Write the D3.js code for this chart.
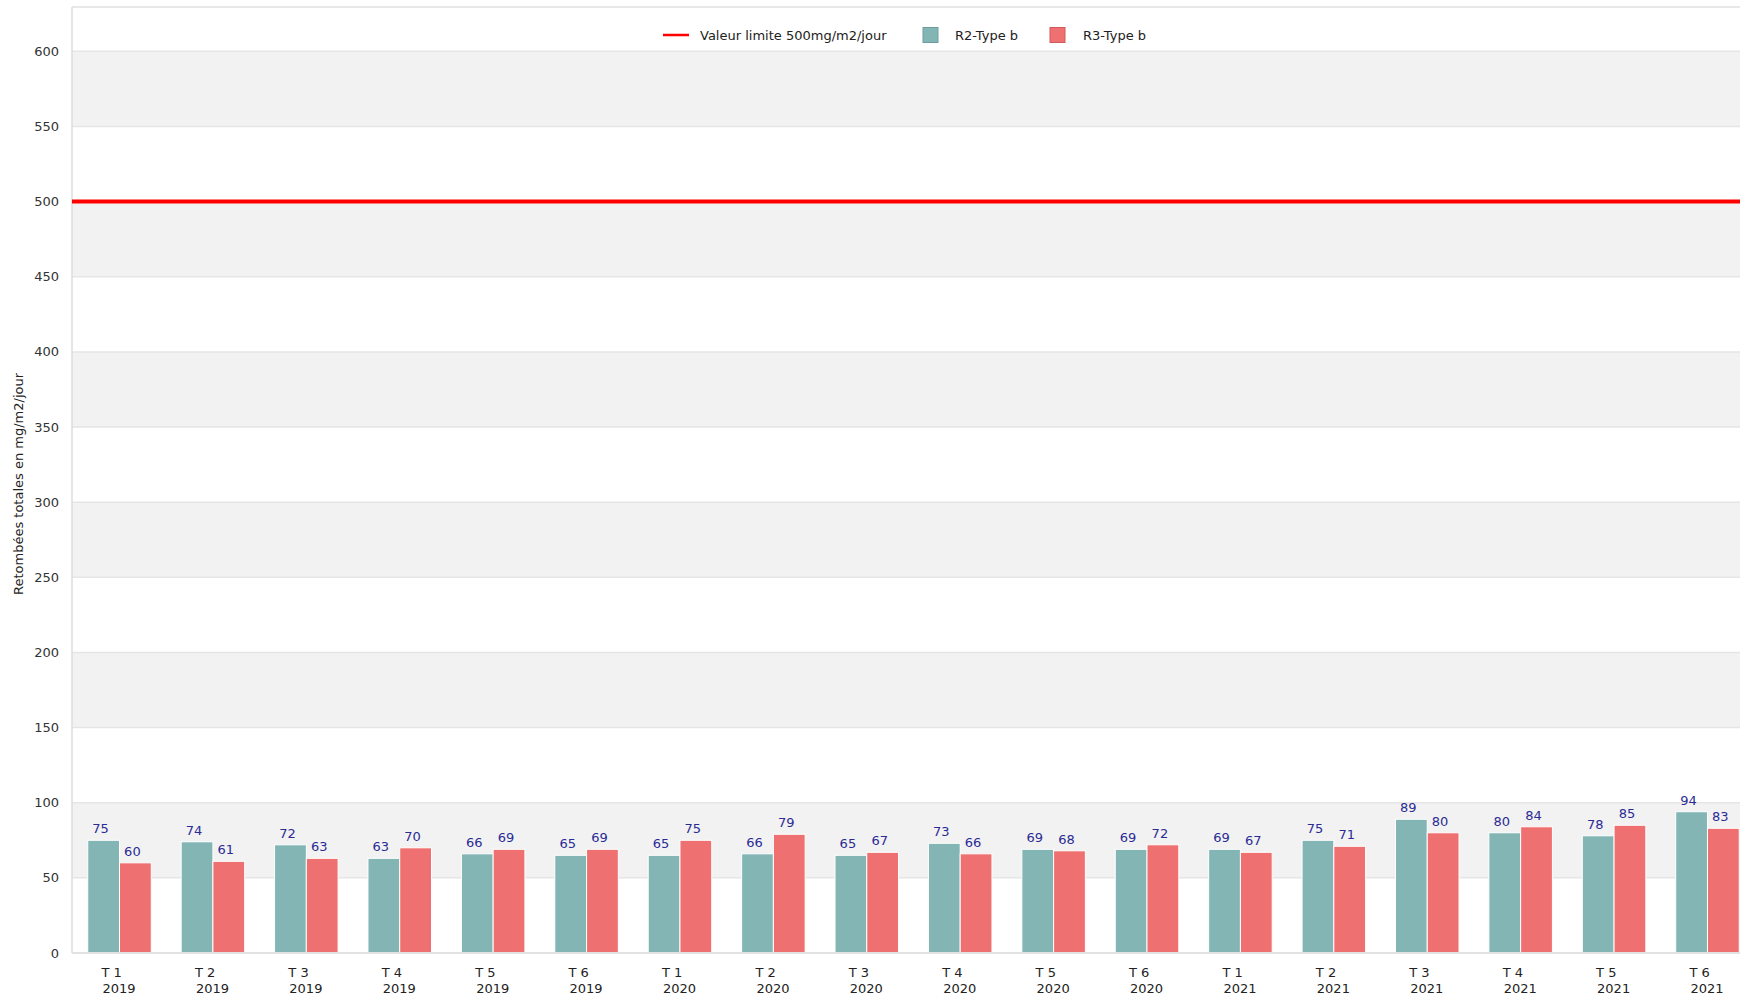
<!DOCTYPE html>
<html lang="fr">
<head>
<meta charset="UTF-8">
<title>Retombées totales</title>
<script src="https://d3js.org/d3.v7.min.js"></script>
<style>
  body { margin: 0; background: #fff; }
  svg text { font-family: "DejaVu Sans", sans-serif; }
</style>
</head>
<body>
<div id="chart"></div>
<script>
const trimestres = ["T 1","T 2","T 3","T 4","T 5","T 6","T 1","T 2","T 3","T 4","T 5","T 6","T 1","T 2","T 3","T 4","T 5","T 6"];
const annees = ["2019","2019","2019","2019","2019","2019","2020","2020","2020","2020","2020","2020","2021","2021","2021","2021","2021","2021"];
const r2 = [75,74,72,63,66,65,65,66,65,73,69,69,69,75,89,80,78,94];
const r3 = [60,61,63,70,69,69,75,79,67,66,68,72,67,71,80,84,85,83];
const seriesNames = ["R2-Type b", "R3-Type b"];
const limite = 500;
const yTicks = [0,50,100,150,200,250,300,350,400,450,500,550,600];

const width = 1740, height = 998;
const plotLeft = 72, plotTop = 7, plotBottom = 953;
const colors = ["#84b5b5", "#ef7070"];
const strokes = ["#6e9d9d", "#d05a5a"];

const svg = d3.select("#chart").append("svg")
  .attr("width", width).attr("height", height);

const keys = trimestres.map((t, i) => i);
const x = d3.scaleBand().domain(keys).range([plotLeft + 0.8, plotLeft + 0.8 + 18 * 93.41]).paddingInner(0.32).paddingOuter(0.16);
const xs = d3.scaleBand().domain([0, 1]).range([0, x.bandwidth()]);
const y = d3.scaleLinear().domain([0, 629.5]).range([plotBottom, plotTop]);

// alternating bands
const bands = d3.range(50, 600, 100);
svg.append("g").selectAll("rect").data(bands).enter().append("rect")
  .attr("x", plotLeft).attr("width", width - plotLeft)
  .attr("y", d => y(d + 50)).attr("height", d => y(d) - y(d + 50))
  .attr("fill", "#f2f2f2");

// grid lines
svg.append("g").selectAll("line").data(yTicks.filter(d => d > 0)).enter().append("line")
  .attr("x1", plotLeft).attr("x2", width)
  .attr("y1", d => y(d)).attr("y2", d => y(d))
  .attr("stroke", "#e5e5e5").attr("stroke-width", 1.5);

// frame
svg.append("line").attr("x1", plotLeft).attr("x2", width).attr("y1", plotTop).attr("y2", plotTop)
  .attr("stroke", "#e0e0e0").attr("stroke-width", 1.5);
svg.append("line").attr("x1", plotLeft).attr("x2", plotLeft).attr("y1", plotTop).attr("y2", plotBottom)
  .attr("stroke", "#dcdcdc").attr("stroke-width", 1.5);

// y tick labels
svg.append("g").selectAll("text").data(yTicks).enter().append("text")
  .attr("x", plotLeft - 13).attr("y", d => y(d)).attr("dy", "0.35em")
  .attr("text-anchor", "end").attr("font-size", 13).attr("fill", "#333")
  .text(d => d);

// y axis title
svg.append("text")
  .attr("transform", `translate(23,${(plotTop + plotBottom) / 2 + 4}) rotate(-90)`)
  .attr("text-anchor", "middle").attr("font-size", 13).attr("fill", "#222")
  .text("Retombées totales en mg/m2/jour");

// bars
const data = keys.map(i => ({ i, vals: [r2[i], r3[i]] }));
const groups = svg.append("g").selectAll("g").data(data).enter().append("g")
  .attr("transform", d => `translate(${x(d.i)},0)`);

groups.selectAll("rect").data(d => d.vals.map((v, s) => ({ v, s }))).enter().append("rect")
  .attr("x", d => xs(d.s)).attr("width", xs.bandwidth())
  .attr("y", d => y(d.v)).attr("height", d => y(0) - y(d.v))
  .attr("fill", d => colors[d.s]).attr("stroke", "#fff").attr("stroke-width", 1);

groups.selectAll("text.val").data(d => d.vals.map((v, s) => ({ v, s }))).enter().append("text")
  .attr("class", "val")
  .attr("x", d => xs(d.s) + xs.bandwidth() / 2 - 3)
  .attr("y", d => y(d.v) - 7)
  .attr("text-anchor", "middle").attr("font-size", 13).attr("fill", "#2b2b95")
  .text(d => d.v);

// bottom axis line
svg.append("line").attr("x1", plotLeft).attr("x2", width).attr("y1", plotBottom).attr("y2", plotBottom)
  .attr("stroke", "#e2e2e2").attr("stroke-width", 2);

// x labels
const xl = svg.append("g").selectAll("text").data(keys).enter().append("text")
  .attr("font-size", 13).attr("fill", "#222").attr("text-anchor", "start");
xl.append("tspan").attr("x", d => x(d) + x.bandwidth() / 2 - 18).attr("y", plotBottom + 24).text(d => trimestres[d]);
xl.append("tspan").attr("x", d => x(d) + x.bandwidth() / 2 - 17).attr("y", plotBottom + 40).text(d => annees[d]);

// limit line
svg.append("line").attr("x1", plotLeft).attr("x2", width)
  .attr("y1", y(limite)).attr("y2", y(limite))
  .attr("stroke", "#ff0000").attr("stroke-width", 4);

// legend
const lg = svg.append("g").attr("font-size", 13).attr("fill", "#222");
lg.append("line").attr("x1", 663).attr("x2", 689).attr("y1", 35).attr("y2", 35)
  .attr("stroke", "#ff0000").attr("stroke-width", 2.5);
lg.append("text").attr("x", 700).attr("y", 35).attr("dy", "0.35em").text("Valeur limite 500mg/m2/jour");
const sqX = [923, 1050];
const txX = [955, 1083];
seriesNames.forEach((n, s) => {
  lg.append("rect").attr("x", sqX[s]).attr("y", 27.5).attr("width", 15).attr("height", 15)
    .attr("fill", colors[s]).attr("stroke", strokes[s]).attr("stroke-width", 1);
  lg.append("text").attr("x", txX[s]).attr("y", 35).attr("dy", "0.35em").text(n);
});
</script>
</body>
</html>
